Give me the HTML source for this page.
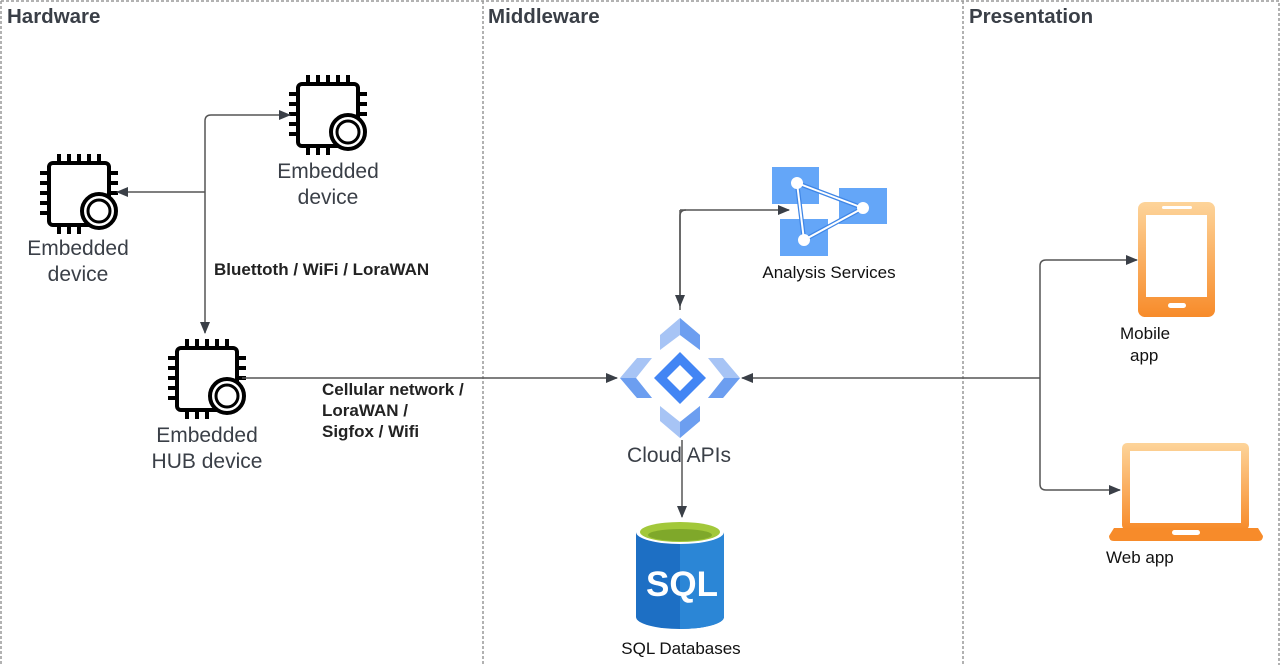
<!DOCTYPE html>
<html><head><meta charset="utf-8"><style>
body{margin:0;background:#fff}
svg{display:block}
text{font-family:"Liberation Sans",sans-serif}
</style></head><body>
<svg width="1280" height="665" viewBox="0 0 1280 665" xmlns="http://www.w3.org/2000/svg">
<defs>
<marker id="a" markerWidth="12" markerHeight="12" refX="11" refY="6" orient="auto" markerUnits="userSpaceOnUse"><path d="M0,1 L12,6 L0,11 Z" fill="#3a3f47"/></marker>
<g id="chip">
 <g stroke="#000" stroke-width="4" fill="none">
  <rect x="0" y="0" width="60" height="62" rx="4" fill="#fff"/>
  <path d="M10,0V-9M20,0V-9M30,0V-9M40,0V-9M50,0V-9M0,10H-9M0,20H-9M0,30H-9M0,40H-9M0,50H-9M60,10H69M60,20H69M60,30H69M10,62V71M20,62V71M30,62V71"/>
  <circle cx="50" cy="48" r="17" fill="#fff"/>
  <circle cx="50" cy="48" r="11" stroke-width="3"/>
 </g>
</g>
<linearGradient id="og" x1="0" y1="0" x2="0" y2="1"><stop offset="0" stop-color="#fdd49a"/><stop offset="1" stop-color="#f78b2a"/></linearGradient>
</defs>
<g stroke="#999" stroke-width="1.5" stroke-dasharray="3,2" fill="none">
<path d="M1,1H1279V665M1,1V665M483,1V665M963,1V665"/>
</g>
<g font-weight="bold" font-size="20.5" fill="#3a3f47">
<text x="7" y="23">Hardware</text><text x="488" y="23">Middleware</text><text x="969" y="23">Presentation</text>
</g>
<use href="#chip" x="49" y="163"/>
<use href="#chip" x="298" y="84"/>
<use href="#chip" x="177" y="348"/>
<g font-size="21" fill="#3a3f47" text-anchor="middle">
<text x="78" y="255">Embedded</text><text x="78" y="281">device</text>
<text x="328" y="178">Embedded</text><text x="328" y="204">device</text>
<text x="207" y="442">Embedded</text><text x="207" y="468">HUB device</text>
<text x="679" y="462">Cloud APIs</text>
</g>
<g font-size="17" font-weight="bold" fill="#222">
<text x="214" y="275">Bluettoth / WiFi / LoraWAN</text>
<text x="322" y="395">Cellular network /</text>
<text x="322" y="416">LoraWAN /</text>
<text x="322" y="437">Sigfox / Wifi</text>
</g>
<g stroke="#555" stroke-width="1.5" fill="none">
<path d="M205,192V121Q205,115 211,115H290" marker-end="url(#a)"/>
<path d="M205,192H117" marker-end="url(#a)"/>
<path d="M205,192V333" marker-end="url(#a)"/>
<path d="M242,378H617" marker-end="url(#a)"/>
<path d="M1040,378H742" marker-end="url(#a)"/>
<path d="M1040,378V266Q1040,260 1046,260H1137" marker-end="url(#a)"/>
<path d="M1040,378V484Q1040,490 1046,490H1120" marker-end="url(#a)"/>
<path d="M680,210H789" marker-end="url(#a)"/>
<path d="M680,310V216Q680,210 686,210"/>
<path d="M680,210V306" marker-end="url(#a)"/>
<path d="M682,440V517" marker-end="url(#a)"/>
</g>
<!-- Cloud APIs -->
<g>
<polygon points="660,335 680,318 700,335 700,350 680,335 660,350" fill="#a7c4f5"/>
<polygon points="680,318 700,335 700,350 680,335" fill="#6c9ef0"/>
<polygon points="660,406 680,422 700,406 700,421 680,438 660,421" fill="#a7c4f5"/>
<polygon points="680,422 700,406 700,421 680,438" fill="#6c9ef0"/>
<polygon points="620,378 637,358 652,358 636,378 652,398 637,398" fill="#a7c4f5"/>
<polygon points="620,378 636,378 652,398 637,398" fill="#6c9ef0"/>
<polygon points="740,378 723,358 708,358 724,378 708,398 723,398" fill="#a7c4f5"/>
<polygon points="740,378 724,378 708,398 723,398" fill="#6c9ef0"/>
<polygon points="680,352 706,378 680,404 654,378" fill="#4285f4"/>
<polygon points="680,365 693,378 680,391 667,378" fill="#fff"/>
</g>
<!-- Analysis services -->
<g fill="#64a6f8">
<rect x="772" y="167" width="47" height="37"/>
<rect x="839" y="188" width="48" height="36"/>
<rect x="780" y="219" width="48" height="37"/>
</g>
<path d="M797,183L863,208L804,240Z" fill="none" stroke="#3f86e6" stroke-width="4.5"/>
<g stroke="#fff" stroke-width="2" fill="#fff">
<path d="M797,183L863,208L804,240Z" fill="none"/>
<circle cx="797" cy="183" r="5"/><circle cx="863" cy="208" r="5"/><circle cx="804" cy="240" r="5"/>
</g>
<text x="829" y="278" font-size="17" fill="#111" text-anchor="middle">Analysis Services</text>
<!-- SQL -->
<path d="M636,532V617A44,12 0 0 0 724,617V532Z" fill="#1d6fc4"/>
<path d="M680,544V629A44,12 0 0 0 724,617V532Z" fill="#2b86d6"/>
<ellipse cx="680" cy="532" rx="44" ry="12" fill="#fff"/>
<ellipse cx="680" cy="532" rx="40" ry="10" fill="#a2c83a"/>
<ellipse cx="680" cy="535" rx="32" ry="6" fill="#7fa82a"/>
<text x="682" y="596" font-size="35" font-weight="bold" fill="#fff" text-anchor="middle">SQL</text>
<text x="681" y="654" font-size="17" fill="#111" text-anchor="middle">SQL Databases</text>
<!-- phone -->
<rect x="1138" y="202" width="77" height="115" rx="7" fill="url(#og)"/>
<rect x="1146" y="215" width="61" height="82" fill="#fff"/>
<rect x="1162" y="206" width="30" height="3" rx="1.5" fill="#fff"/>
<rect x="1168" y="303" width="18" height="5" rx="2.5" fill="#fff"/>
<text x="1120" y="339" font-size="17" fill="#111">Mobile</text>
<text x="1130" y="361" font-size="17" fill="#111">app</text>
<!-- laptop -->
<rect x="1122" y="443" width="127" height="87" rx="5" fill="url(#og)"/>
<rect x="1130" y="451" width="111" height="72" fill="#fff"/>
<path d="M1114,528H1258L1263,536Q1263,541 1258,541H1114Q1109,541 1109,536Z" fill="#f78b2a"/>
<rect x="1172" y="530" width="28" height="5" rx="2.5" fill="#fff"/>
<text x="1106" y="563" font-size="17" fill="#111">Web app</text>
</svg>
</body></html>
